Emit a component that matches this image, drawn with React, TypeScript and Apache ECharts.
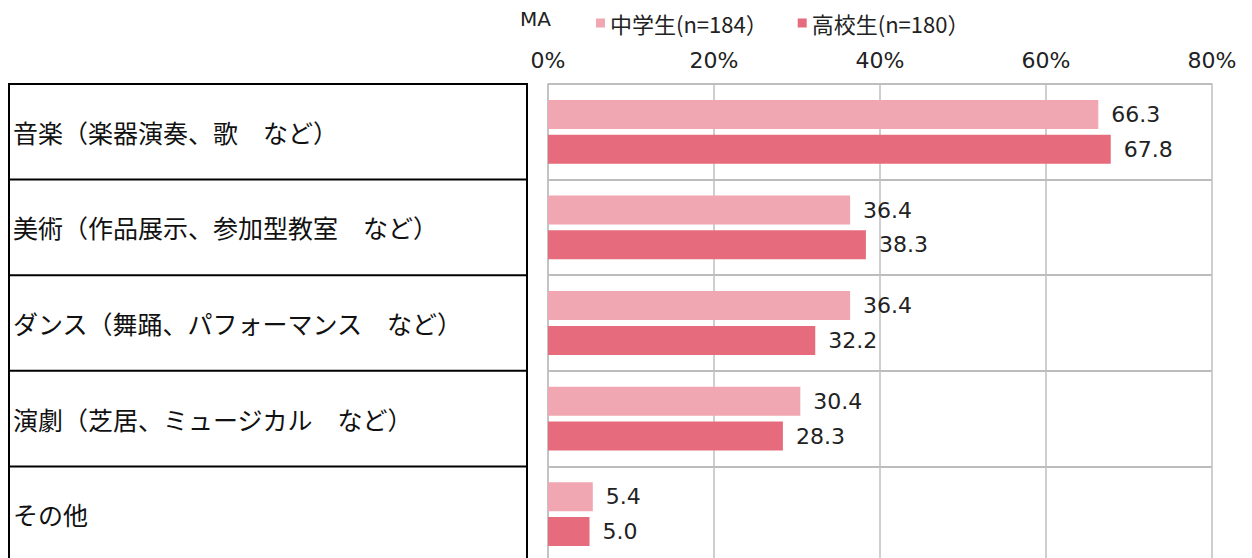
import React, { useEffect, useRef } from "react";
import * as echarts from "echarts";

const categories = [
  "音楽（楽器演奏、歌　など）",
  "美術（作品展示、参加型教室　など）",
  "ダンス（舞踊、パフォーマンス　など）",
  "演劇（芝居、ミュージカル　など）",
  "その他",
];
const seriesNames = ["中学生(n=184）", "高校生(n=180）"];
const juniorHigh = [66.3, 36.4, 36.4, 30.4, 5.4];
const highSchool = [67.8, 38.3, 32.2, 28.3, 5.0];
const xTicks = { min: 0, max: 80, interval: 20 };

const FONT = "'Noto Sans CJK JP', 'Noto Sans', sans-serif";
const NUMFONT = "'DejaVu Sans', 'Noto Sans CJK JP', sans-serif";
const GRID_LEFT = 548;
const GRID_TOP = 84;
const GRID_W = 664;
const GRID_H = 478;
const TABLE_L = 9;
const TABLE_R = 527;

export default function App() {
  const ref = useRef<HTMLDivElement>(null);
  useEffect(() => {
    if (!ref.current) return;
    const chart = echarts.init(ref.current, null, { renderer: "svg" });
    const rowH = GRID_H / categories.length;
    const tableLines: any[] = [];
    for (let i = 0; i <= categories.length; i++) {
      tableLines.push({
        type: "line",
        shape: { x1: TABLE_L, y1: GRID_TOP + i * rowH, x2: TABLE_R, y2: GRID_TOP + i * rowH },
        style: { stroke: "#000", lineWidth: 2 },
      });
    }
    tableLines.push({
      type: "line",
      shape: { x1: TABLE_L, y1: GRID_TOP - 1, x2: TABLE_L, y2: GRID_TOP + GRID_H },
      style: { stroke: "#000", lineWidth: 2 },
    });
    tableLines.push({
      type: "line",
      shape: { x1: TABLE_R, y1: GRID_TOP - 1, x2: TABLE_R, y2: GRID_TOP + GRID_H },
      style: { stroke: "#000", lineWidth: 2 },
    });
    const colors = ["#F0A7B1", "#E66B7D"];
    const mkSeries = (name: string, data: number[], color: string) => ({
      type: "bar",
      name,
      data,
      barWidth: 29,
      barGap: "20%",
      itemStyle: { color },
      label: {
        show: true,
        position: "right",
        distance: 13,
        formatter: (p: any) => Number(p.value).toFixed(1),
        fontFamily: NUMFONT,
        fontSize: 22,
        color: "#222",
      },
    });
    chart.setOption({
      animation: false,
      textStyle: { fontFamily: FONT },
      legend: {
        left: 591,
        top: 7,
        itemWidth: 9,
        itemHeight: 9,
        itemGap: 30,
        icon: "rect",
        textStyle: { fontSize: 22, color: "#222", fontFamily: FONT },
        data: seriesNames,
      },
      graphic: [
        {
          type: "text",
          left: 520,
          top: 9,
          style: { text: "MA", fontSize: 20, fill: "#222", fontFamily: NUMFONT },
        },
        ...tableLines,
      ],
      grid: { left: GRID_LEFT, top: GRID_TOP, width: GRID_W, height: GRID_H },
      xAxis: {
        type: "value",
        position: "top",
        min: xTicks.min,
        max: xTicks.max,
        interval: xTicks.interval,
        axisLine: { show: true, lineStyle: { color: "#bfbfbf", width: 1.5 } },
        axisTick: { show: false },
        splitLine: { show: true, lineStyle: { color: "#bfbfbf", width: 1.5 } },
        axisLabel: {
          formatter: "{value}%",
          fontSize: 22,
          color: "#222",
          fontFamily: NUMFONT,
          margin: 13,
        },
      },
      yAxis: {
        type: "category",
        inverse: true,
        data: categories,
        axisLine: { show: true, lineStyle: { color: "#bfbfbf", width: 1.5 } },
        axisTick: { show: false },
        splitLine: { show: true, interval: 0, lineStyle: { color: "#a6a6a6", width: 1.5 } },
        axisLabel: {
          align: "left",
          margin: GRID_LEFT - 13,
          fontSize: 25,
          color: "#111",
          fontFamily: FONT,
          interval: 0,
        },
      },
      series: [
        mkSeries(seriesNames[0], juniorHigh, colors[0]),
        mkSeries(seriesNames[1], highSchool, colors[1]),
      ],
    });
    return () => chart.dispose();
  }, []);
  return (
    <div
      ref={ref}
      style={{ position: "fixed", left: 0, top: 0, width: 1252, height: 570, background: "#fff" }}
    />
  );
}
